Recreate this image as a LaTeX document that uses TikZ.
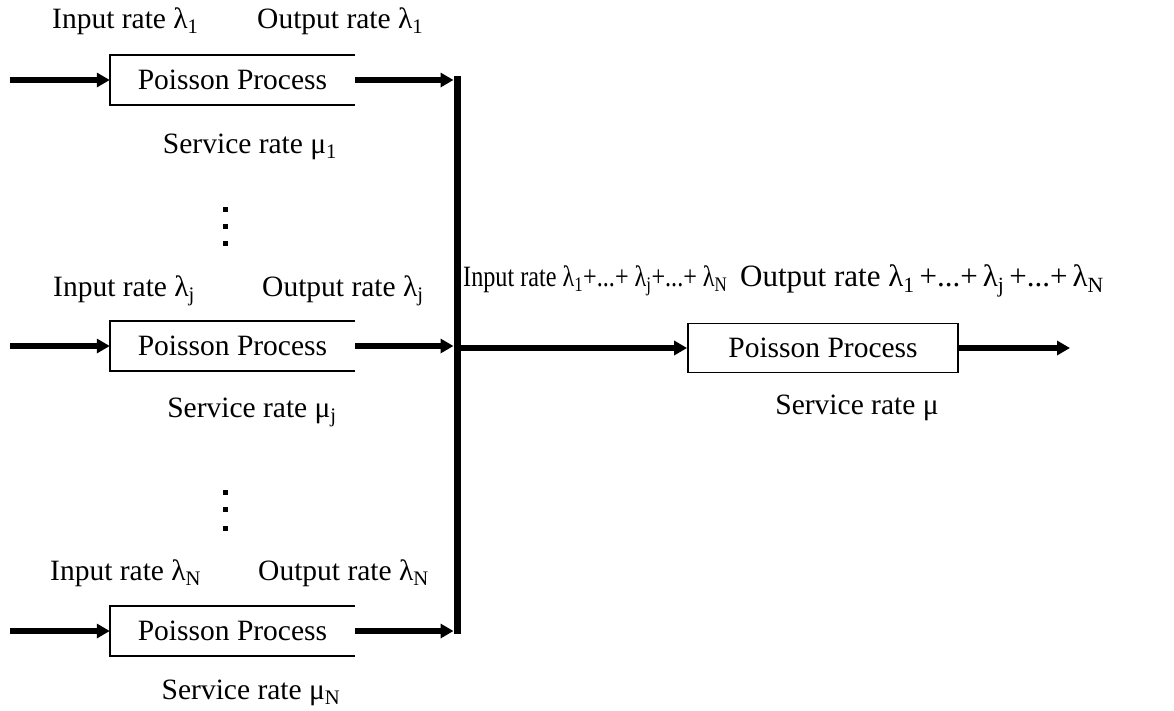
\documentclass[tikz,border=0pt]{standalone}
\usepackage{fontspec}
\usepackage{graphicx}
\setmainfont{Liberation Serif}
\usetikzlibrary{arrows.meta}
\newcommand{\plusgap}{\hspace{5pt}}
\begin{document}
\begin{tikzpicture}[x=1pt,y=-1pt,
  lbl/.style={inner sep=0pt,font=\fontsize{29.5}{34}\selectfont},
  procbox/.style={minimum width=#1,minimum height=49pt,inner sep=0pt,font=\fontsize{29.5}{34}\selectfont},
  flow/.style={line width=5.5pt,-{Triangle[length=13pt,width=14pt]}},
  busline/.style={line width=7pt},
  frame/.style={line width=1.8pt},
  dot/.style={fill=black,minimum size=5pt,inner sep=0pt}]
\useasboundingbox (0,0) rectangle (1174,710);

% the three source queues
\node[procbox=245pt] (b1) at (232.5,80) {Poisson Process};
\node[procbox=245pt] (b2) at (232.5,346) {Poisson Process};
\node[procbox=245pt] (b3) at (232.5,631) {Poisson Process};
\foreach \b in {b1,b2,b3}
  \draw[frame] (\b.north east) -- (\b.north west) -- (\b.south west) -- (\b.south east);

% merging queue
\node[procbox=270pt,draw,line width=1.8pt] (rb) at (823,348) {Poisson Process};

% input ends
\coordinate (i1) at (10,80);
\coordinate (i2) at (10,346);
\coordinate (i3) at (10,631);
\coordinate (out) at (1070,348);

% collecting bus
\coordinate (busT) at (457,76);
\coordinate (busB) at (457,634);
\draw[busline] (busT) -- (busB);

\draw[flow] (i1) -- (b1.west);
\draw[flow] (i2) -- (b2.west);
\draw[flow] (i3) -- (b3.west);
\draw[flow,shorten >=3.5pt] (b1.east) -- (b1.east -| busT);
\draw[flow,shorten >=3.5pt] (b2.east) -- (b2.east -| busT);
\draw[flow,shorten >=3.5pt] (b3.east) -- (b3.east -| busT);
\draw[flow] (rb.west -| busT) -- (rb.west);
\draw[flow] (rb.east) -- (out);

% rate labels of the source queues
\node[lbl,anchor=west] (in1) at (52,21) {Input rate λ\textsubscript{1}};
\node[lbl,anchor=west] (on1) at (257,21) {Output rate λ\textsubscript{1}};
\node[lbl] (sv1) at (250,147) {Service rate μ\textsubscript{1}};

\node[lbl,anchor=west] (in2) at (53,291) {Input rate λ\textsubscript{j}};
\node[lbl,anchor=west] (on2) at (262,291) {Output rate λ\textsubscript{j}};
\node[lbl] (sv2) at (252,412) {Service rate μ\textsubscript{j}};

\node[lbl,anchor=west] (in3) at (50,573) {Input rate λ\textsubscript{N}};
\node[lbl,anchor=west] (on3) at (258,573) {Output rate λ\textsubscript{N}};
\node[lbl] (sv3) at (251,693) {Service rate μ\textsubscript{N}};

% rate labels of the merging queue
\node[lbl,anchor=west] (inr) at (463,281)
  {\scalebox{0.82}[1]{Input rate λ\textsubscript{1}+...+ λ\textsubscript{j}+...+ λ\textsubscript{N}}};
\node[lbl,anchor=west,font=\fontsize{31}{35}\selectfont] (onr) at (740,281)
  {Output rate λ\textsubscript{1}\plusgap+...+\plusgap λ\textsubscript{j}\plusgap+...+\plusgap λ\textsubscript{N}};
\node[lbl] (svr) at (857,408) {Service rate μ};

% ellipsis dots
\foreach \y in {209,226,243,492,509,528}
  \node[dot] at (225,\y) {};
\end{tikzpicture}
\end{document}
